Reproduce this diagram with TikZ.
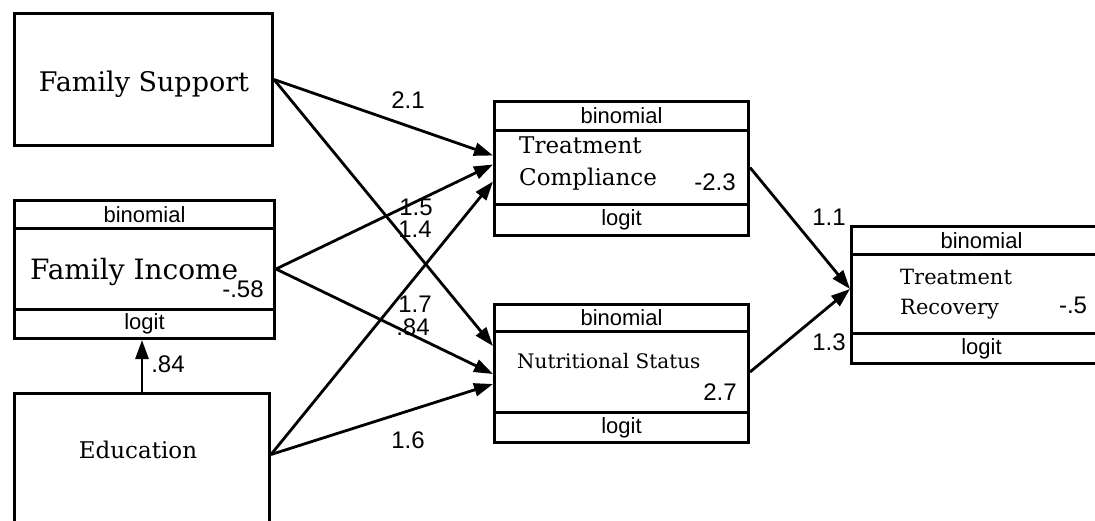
\documentclass[tikz,border=0pt]{standalone}
\usepackage{fontspec}
\setmainfont{DejaVu Serif}
\newfontfamily\labfont{Liberation Sans}
\usetikzlibrary{arrows.meta}
\tikzset{
  varbox/.style={draw, line width=3pt, inner sep=0pt, anchor=north west},
  rowtext/.style={font=\labfont\fontsize{22}{22}\selectfont},
  coef/.style={font=\labfont\fontsize{24}{24}\selectfont, inner sep=0pt},
  effect/.style={-{Triangle[length=19pt,width=13pt]}, line width=2.8pt},
}
\begin{document}
\begin{tikzpicture}[x=1pt,y=-1pt]
  \useasboundingbox (0,0) rectangle (1095,520);
  \clip (0,0) rectangle (1095,520);
  % left column
  \node[varbox, minimum width=258pt, minimum height=132pt] (fs) at (13,12) {};
  \node[anchor=base, inner sep=0pt, font=\fontsize{27}{27}\selectfont] (fs-name) at (144,91) {Family Support};
  \node[varbox, rowtext, minimum width=260pt, minimum height=28pt] (fi-fam) at (13,199) {binomial};
  \node[varbox, minimum width=260pt, minimum height=81pt] (fi) at (13,227) {};
  \node[varbox, rowtext, minimum width=260pt, minimum height=29pt] (fi-link) at (13,308) {logit};
  \node[anchor=base west, inner sep=0pt, font=\fontsize{28}{28}\selectfont] (fi-name) at (30,279) {Family Income};
  \node[varbox, minimum width=255pt, minimum height=140pt] (edu) at (13,392) {};
  \node[anchor=base, inner sep=0pt, font=\fontsize{23}{23}\selectfont] (edu-name) at (138,458) {Education};
  % middle column
  \node[varbox, rowtext, minimum width=254pt, minimum height=29pt] (tc-fam) at (493,100) {binomial};
  \node[varbox, minimum width=254pt, minimum height=74pt] (tc) at (493,129) {};
  \node[varbox, rowtext, minimum width=254pt, minimum height=31pt] (tc-link) at (493,203) {logit};
  \node[anchor=north west, inner sep=0pt, align=left, font=\fontsize{23}{32}\selectfont] (tc-name) at (519,137) {Treatment\\Compliance};
  \node[varbox, rowtext, minimum width=254pt, minimum height=27pt] (ns-fam) at (493,303) {binomial};
  \node[varbox, minimum width=254pt, minimum height=81pt] (ns) at (493,330) {};
  \node[varbox, rowtext, minimum width=254pt, minimum height=30pt] (ns-link) at (493,411) {logit};
  \node[anchor=base west, inner sep=0pt, font=\fontsize{20}{20}\selectfont] (ns-name) at (517,368) {Nutritional Status};
  % right column
  \node[varbox, rowtext, minimum width=260pt, minimum height=28pt] (tr-fam) at (850,225) {binomial};
  \node[varbox, minimum width=260pt, minimum height=79pt] (tr) at (850,253) {};
  \node[varbox, rowtext, minimum width=260pt, minimum height=30pt] (tr-link) at (850,332) {logit};
  \node[anchor=north west, inner sep=0pt, align=left, font=\fontsize{21}{30}\selectfont] (tr-name) at (900,269) {Treatment\\Recovery};
  % paths
  \draw[effect] (fs.east) -- ([yshift=12pt]tc.west);
  \draw[effect] (fs.east) -- ([yshift=26pt]ns.west);
  \draw[effect] (fi.east) -- ([yshift=3pt]tc.west);
  \draw[effect] (fi.east) -- ([yshift=-2pt]ns.west);
  \draw[effect] ([yshift=9pt]edu.east) -- ([yshift=-14pt]tc.west);
  \draw[effect] ([yshift=9pt]edu.east) -- ([yshift=-12pt]ns.west);
  \draw[effect] (edu.north) -- (edu.north |- fi-link.south);
  \draw[effect] (tc.east) -- ([yshift=5pt]tr.west);
  \draw[effect] (ns.east) -- ([yshift=5pt]tr.west);
  % coefficients
  \node[coef] (c-fs-tc) at (408,100) {2.1};
  \node[coef] (c-fi-tc) at (416,207) {1.5};
  \node[coef] (c-fs-ns) at (415,229) {1.4};
  \node[coef] (c-edu-tc) at (415,304) {1.7};
  \node[coef] (c-fi-ns) at (413,327) {.84};
  \node[coef] (c-edu-ns) at (408,440) {1.6};
  \node[coef] (c-edu-fi) at (168,364) {.84};
  \node[coef] (c-fi) at (243,289) {-.58};
  \node[coef] (c-tc) at (715,182) {-2.3};
  \node[coef] (c-ns) at (720,392) {2.7};
  \node[coef] (c-tc-tr) at (829,217) {1.1};
  \node[coef] (c-ns-tr) at (829,342) {1.3};
  \node[coef] (c-tr) at (1073,305) {-.5};
\end{tikzpicture}
\end{document}
